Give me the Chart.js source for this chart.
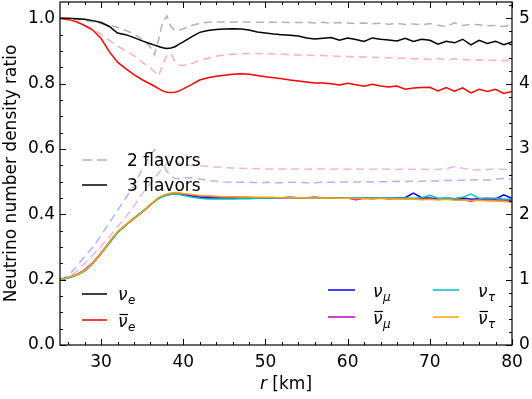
<!DOCTYPE html>
<html><head><meta charset="utf-8">
<script src="https://cdn.jsdelivr.net/npm/chart.js@4/dist/chart.umd.min.js"></script>
<style>html,body{margin:0;padding:0;background:#fff;}#wrap{width:532px;height:399px;}</style>
</head><body><div id="wrap"><canvas id="c" width="532" height="399"></canvas></div>
<script>
// radius grid [km]
const r = [25,26,27,28,29,30,31,32,33,34,35,36,36.5,37,37.5,38,38.5,39,39.5,40,41,42,43,44,45,46,47,48,49,50,51,52,53,54,55,56,57,58,59,60,61,62,63,64,65,66,67,68,69,70,71,72,73,74,75,76,77,78,79,80];

// 3 flavors (solid)
const nuE3 = [1.000,1.000,0.999,0.997,0.993,0.987,0.975,0.955,0.950,0.941,0.931,0.922, 0.918,0.914,0.910,0.908,0.909,0.913,0.921,0.928, 0.943,0.957,0.963,0.966,0.967,0.968,0.967,0.964,0.958,0.955, 0.952,0.950,0.948,0.946,0.940,0.937,0.939,0.941,0.933,0.940, 0.935,0.929,0.940,0.936,0.934,0.931,0.939,0.929,0.936,0.933, 0.921,0.930,0.925,0.936,0.919,0.933,0.923,0.930,0.919,0.928];
const nuEbar3 = [1.000,0.996,0.990,0.978,0.964,0.938,0.898,0.866,0.846,0.828,0.812,0.799, 0.792,0.785,0.778,0.774,0.773,0.774,0.778,0.784, 0.797,0.811,0.818,0.823,0.826,0.829,0.830,0.829,0.825,0.821, 0.818,0.815,0.811,0.808,0.805,0.802,0.802,0.800,0.796,0.801, 0.797,0.792,0.798,0.793,0.790,0.793,0.783,0.787,0.788,0.789, 0.778,0.788,0.777,0.787,0.772,0.783,0.776,0.783,0.770,0.776];
const nuMu3 = [0.200,0.206,0.214,0.227,0.250,0.280,0.313,0.345,0.367,0.388,0.407,0.429, 0.440,0.449,0.455,0.459,0.462,0.463,0.462,0.460, 0.456,0.452,0.451,0.450,0.450,0.450,0.450,0.450,0.450,0.451, 0.451,0.451,0.452,0.451,0.451,0.452,0.451,0.450,0.451,0.450, 0.449,0.450,0.449,0.450,0.449,0.450,0.451,0.465,0.451,0.450, 0.447,0.449,0.448,0.450,0.446,0.448,0.449,0.447,0.460,0.449];
const nuMubar3 = [0.200,0.207,0.215,0.230,0.252,0.282,0.314,0.346,0.367,0.387,0.407,0.429, 0.440,0.450,0.456,0.460,0.463,0.465,0.464,0.462, 0.459,0.456,0.455,0.454,0.453,0.452,0.452,0.451,0.451,0.451, 0.451,0.450,0.451,0.450,0.451,0.450,0.449,0.450,0.449,0.450, 0.445,0.449,0.448,0.450,0.447,0.449,0.448,0.447,0.448,0.447, 0.446,0.447,0.446,0.445,0.440,0.446,0.445,0.444,0.444,0.443];
const nuTau3 = [0.200,0.205,0.213,0.226,0.249,0.279,0.312,0.344,0.367,0.389,0.408,0.429, 0.440,0.449,0.455,0.459,0.461,0.463,0.461,0.458, 0.453,0.449,0.447,0.447,0.447,0.447,0.448,0.448,0.449,0.450, 0.450,0.451,0.451,0.450,0.451,0.450,0.451,0.450,0.450,0.451, 0.449,0.450,0.449,0.450,0.451,0.449,0.450,0.449,0.451,0.458, 0.449,0.450,0.448,0.452,0.462,0.449,0.448,0.450,0.446,0.447];
const nuTaubar3 = [0.200,0.207,0.215,0.228,0.250,0.280,0.316,0.347,0.368,0.387,0.408,0.430, 0.441,0.451,0.458,0.462,0.465,0.467,0.466,0.464, 0.461,0.458,0.456,0.455,0.454,0.454,0.453,0.453,0.452,0.452, 0.452,0.451,0.451,0.451,0.450,0.451,0.450,0.450,0.449,0.450, 0.448,0.449,0.447,0.449,0.447,0.448,0.446,0.447,0.445,0.446, 0.444,0.446,0.443,0.444,0.442,0.443,0.441,0.441,0.439,0.437];

// 2 flavors (dashed)
const nuE2 = [1.000,0.999,0.997,0.994,0.989,0.984,0.979,0.972,0.963,0.952,0.936,0.912, 0.888,0.935,0.990,1.008,0.975,0.962,0.964,0.968, 0.978,0.985,0.988,0.989,0.989,0.989,0.989,0.989,0.988,0.988, 0.988,0.988,0.987,0.987,0.988,0.986,0.988,0.985,0.987,0.986, 0.984,0.986,0.983,0.985,0.982,0.985,0.981,0.983,0.980,0.984, 0.979,0.975,0.986,0.978,0.982,0.980,0.977,0.978,0.975,0.981];
const nuEbar2 = [1.000,0.995,0.988,0.978,0.967,0.952,0.933,0.915,0.900,0.886,0.866,0.848, 0.836,0.824,0.858,0.888,0.892,0.866,0.857,0.856, 0.862,0.871,0.878,0.884,0.888,0.890,0.891,0.892,0.892,0.892, 0.891,0.890,0.889,0.888,0.887,0.886,0.886,0.885,0.884,0.883, 0.882,0.882,0.881,0.880,0.879,0.878,0.878,0.876,0.877,0.874, 0.877,0.873,0.876,0.874,0.872,0.873,0.871,0.872,0.870,0.874];
const nuX2 = [0.200,0.212,0.240,0.271,0.300,0.336,0.374,0.412,0.450,0.487,0.538,0.582, 0.598,0.580,0.555,0.532,0.516,0.510,0.510,0.512, 0.512,0.508,0.504,0.501,0.499,0.498,0.498,0.498,0.497,0.498, 0.497,0.497,0.498,0.498,0.497,0.497,0.498,0.498,0.499,0.499, 0.499,0.500,0.499,0.500,0.500,0.501,0.500,0.502,0.501,0.503, 0.502,0.504,0.503,0.504,0.505,0.506,0.505,0.508,0.510,0.507];
const nuXbar2 = [0.200,0.207,0.225,0.250,0.276,0.303,0.331,0.362,0.392,0.425,0.462,0.495, 0.511,0.527,0.542,0.556,0.565,0.562,0.556,0.552, 0.550,0.549,0.547,0.545,0.543,0.542,0.541,0.540,0.540,0.539, 0.539,0.539,0.539,0.539,0.538,0.539,0.539,0.538,0.539,0.538, 0.539,0.538,0.538,0.539,0.538,0.537,0.538,0.537,0.538,0.537, 0.538,0.540,0.546,0.541,0.537,0.536,0.537,0.538,0.537,0.540];

// tick values
const xMajor = [30,40,50,60,70,80];
const xMinor = [26,28,32,34,36,38,42,44,46,48,52,54,56,58,62,64,66,68,72,74,76,78];
const yMajor = [0,0.2,0.4,0.6,0.8,1.0];
const yMinor = [0.05,0.1,0.15,0.25,0.3,0.35,0.45,0.5,0.55,0.65,0.7,0.75,0.85,0.9,0.95];
const y2Major = [0,1,2,3,4,5];
const y2Minor = [0.2,0.4,0.6,0.8,1.2,1.4,1.6,1.8,2.2,2.4,2.6,2.8,3.2,3.4,3.6,3.8,4.2,4.4,4.6,4.8,5.2];

const FONT = '"DejaVu Sans"';
Chart.defaults.font.family = FONT;
Chart.defaults.font.size = 17;
Chart.defaults.color = '#000';

const pts = a => r.map((x,i)=>({x:x, y:a[i]}));
const ds = (a,color,dash) => ({data:pts(a), borderColor:color, borderWidth:1.5, pointRadius:0, tension:0, fill:false, borderDash:dash||[], borderCapStyle:'butt'});

const datasets = [
  ds(nuTaubar3,'#ffa500'),
  ds(nuTau3,'#00bfbf'),
  ds(nuMubar3,'#bf00bf'),
  ds(nuMu3,'#0000ff'),
  ds(nuEbar3,'#ff0000'),
  ds(nuE3,'#000000'),
  ds(nuE2,'rgba(0,0,0,0.3)',[8,5]),
  ds(nuEbar2,'rgba(255,0,0,0.3)',[8,5]),
  ds(nuX2,'rgba(0,0,255,0.3)',[8,5]),
  ds(nuXbar2,'rgba(191,0,191,0.3)',[8,5])
];

function nu(ctx,x,yb,sub,bar){
  ctx.font = 'italic 17px '+FONT;
  ctx.textAlign='left'; ctx.textBaseline='alphabetic';
  ctx.fillText('\u03bd',x,yb);
  const w = ctx.measureText('\u03bd').width;
  if(bar){ ctx.save(); ctx.lineWidth=1.2; ctx.strokeStyle='#000'; ctx.setLineDash([]); ctx.beginPath(); ctx.moveTo(x+1.5,yb-12.5); ctx.lineTo(x+w+0.5,yb-12.5); ctx.stroke(); ctx.restore(); }
  ctx.font = 'italic 12px '+FONT;
  ctx.fillText(sub,x+w+0.5,yb+3.5);
}
function seg(ctx,x1,x2,y,color,dash){
  ctx.save(); ctx.strokeStyle=color; ctx.lineWidth=1.5; ctx.setLineDash(dash||[]);
  ctx.beginPath(); ctx.moveTo(x1,y); ctx.lineTo(x2,y); ctx.stroke(); ctx.restore();
}

const deco = {
  id:'deco',
  afterDraw(chart){
    const {ctx, chartArea:a, scales} = chart;
    const sx=scales.x, sy=scales.y, sy2=scales.y2;
    ctx.save();
    ctx.strokeStyle='#000'; ctx.lineWidth=1; ctx.setLineDash([]);
    const ln=(x1,y1,x2,y2)=>{ctx.beginPath();ctx.moveTo(x1,y1);ctx.lineTo(x2,y2);ctx.stroke();};
    xMajor.forEach(v=>{const p=Math.round(sx.getPixelForValue(v))+0.5; ln(p,a.bottom,p,a.bottom-6); ln(p,a.top,p,a.top+6);});
    xMinor.forEach(v=>{const p=Math.round(sx.getPixelForValue(v))+0.5; ln(p,a.bottom,p,a.bottom-3); ln(p,a.top,p,a.top+3);});
    yMajor.forEach(v=>{const p=Math.round(sy.getPixelForValue(v))+0.5; ln(a.left,p,a.left+6,p);});
    yMinor.forEach(v=>{const p=Math.round(sy.getPixelForValue(v))+0.5; ln(a.left,p,a.left+3,p);});
    y2Major.forEach(v=>{const p=Math.round(sy2.getPixelForValue(v))+0.5; ln(a.right,p,a.right-6,p);});
    y2Minor.forEach(v=>{const p=Math.round(sy2.getPixelForValue(v))+0.5; ln(a.right,p,a.right-3,p);});
    ctx.lineWidth=1.2;
    ctx.strokeRect(a.left, a.top, a.right-a.left, a.bottom-a.top);

    ctx.fillStyle='#000';
    // y title
    ctx.save();
    ctx.translate(16, (a.top+a.bottom)/2);
    ctx.rotate(-Math.PI/2);
    ctx.font='17px '+FONT; ctx.textAlign='center'; ctx.textBaseline='alphabetic';
    ctx.fillText('Neutrino number density ratio',0,0);
    ctx.restore();
    // x title
    ctx.font='italic 17px '+FONT;
    const w1=ctx.measureText('r').width;
    ctx.font='17px '+FONT;
    const w2=ctx.measureText(' [km]').width;
    const cx=(a.left+a.right)/2, x0=cx-(w1+w2)/2;
    ctx.textAlign='left'; ctx.textBaseline='alphabetic';
    ctx.font='italic 17px '+FONT; ctx.fillText('r',x0,389);
    ctx.font='17px '+FONT; ctx.fillText(' [km]',x0+w1,389);

    // legend: flavors
    seg(ctx,82,107,160,'rgba(0,0,0,0.3)',[10,5]);
    seg(ctx,82,107,185,'#000');
    ctx.font='17px '+FONT; ctx.textAlign='left';
    ctx.fillText('2 flavors',127,166);
    ctx.fillText('3 flavors',127,191);
    // legend: electron
    seg(ctx,82,107,294,'#000'); nu(ctx,118,300,'e',false);
    seg(ctx,82,107,320,'#ff0000'); nu(ctx,118,327,'e',true);
    // legend: mu / tau
    seg(ctx,328,355,290,'#0000ff'); nu(ctx,373,297,'\u03bc',false);
    seg(ctx,328,355,317,'#bf00bf'); nu(ctx,373,324,'\u03bc',true);
    seg(ctx,433,459,290,'#00bfbf'); nu(ctx,478,297,'\u03c4',false);
    seg(ctx,433,459,317,'#ffa500'); nu(ctx,478,324,'\u03c4',true);
    ctx.restore();
  }
};

const zeroPad = s => { s.paddingTop=0; s.paddingBottom=0; s.paddingLeft=0; s.paddingRight=0; };

new Chart(document.getElementById('c'), {
  type:'line',
  data:{datasets:datasets},
  options:{
    responsive:false, animation:false, devicePixelRatio:1,
    layout:{padding:{top:2,left:0,right:0,bottom:0}},
    plugins:{legend:{display:false}, tooltip:{enabled:false}},
    scales:{
      x:{type:'linear', min:25, max:80,
         grid:{display:false, drawTicks:false}, border:{display:false},
         ticks:{padding:7, callback:v=>String(v), font:{size:17}},
         afterBuildTicks:s=>{s.ticks=xMajor.map(v=>({value:v}));},
         afterFit:s=>{s.height=54; zeroPad(s);}},
      y:{type:'linear', position:'left', min:0, max:1.05,
         grid:{display:false, drawTicks:false}, border:{display:false},
         ticks:{padding:5, callback:v=>v.toFixed(1), font:{size:17}},
         afterBuildTicks:s=>{s.ticks=yMajor.map(v=>({value:v}));},
         afterFit:s=>{s.width=60; zeroPad(s);}},
      y2:{type:'linear', position:'right', min:0, max:5.25,
         grid:{display:false, drawTicks:false}, border:{display:false},
         ticks:{padding:7, callback:v=>String(v), font:{size:17}},
         afterBuildTicks:s=>{s.ticks=y2Major.map(v=>({value:v}));},
         afterFit:s=>{s.width=20; zeroPad(s);}}
    }
  },
  plugins:[deco]
});
</script>
</body></html>
